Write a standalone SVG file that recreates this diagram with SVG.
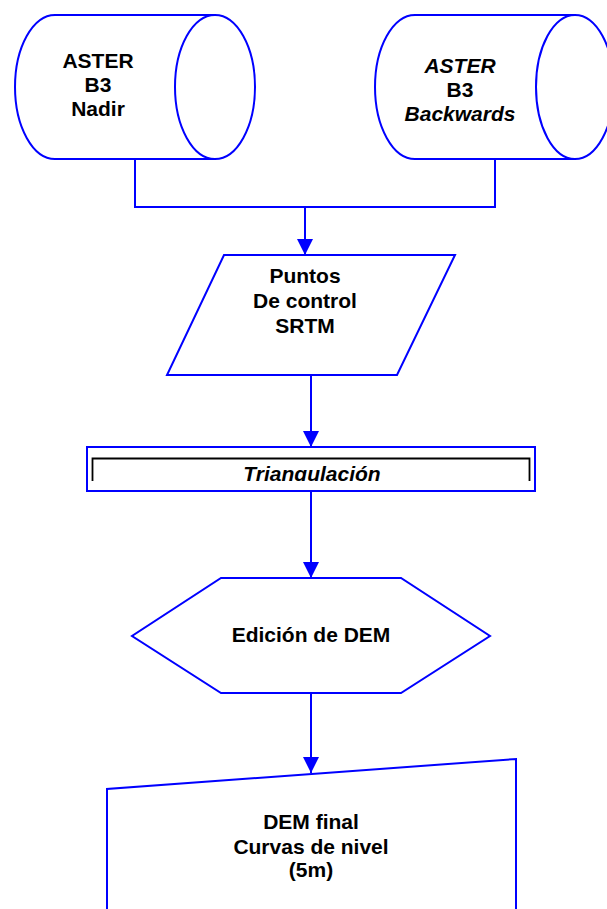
<svg xmlns="http://www.w3.org/2000/svg" width="607" height="909" viewBox="0 0 607 909">
<style>
.s{fill:#fff;stroke:#0000ff;stroke-width:2}
.c{fill:none;stroke:#0000ff;stroke-width:2}
.t{font-family:"Liberation Sans",Arial,sans-serif;font-weight:bold;font-size:21px;fill:#000;text-anchor:middle}
.i{font-style:italic}
</style>
<defs>
<marker id="ah" markerUnits="userSpaceOnUse" markerWidth="16" markerHeight="16" viewBox="0 0 16 16" refX="16" refY="8" orient="auto">
<path d="M0,0 L16,8 L0,16 Z" fill="#0000ff"/>
</marker>
<clipPath id="clipTri"><rect x="88" y="448" width="446" height="33"/></clipPath>
</defs>
<rect width="607" height="909" fill="#fff"/>
<g id="connectors">
<path class="c" d="M135,159 V207 H495 V159"/>
<path class="c" d="M305,207 V255" marker-end="url(#ah)"/>
<path class="c" d="M311,375 V447" marker-end="url(#ah)"/>
<path class="c" d="M311,491 V578" marker-end="url(#ah)"/>
<path class="c" d="M311,693 V773" marker-end="url(#ah)"/>
</g>
<g id="aster-nadir">
<path class="s" d="M55,15 H215 V159 H55 A40,72 0 0 1 55,15 Z"/>
<ellipse class="s" cx="215" cy="87" rx="40" ry="72"/>
<text class="t" x="98" y="68">ASTER</text>
<text class="t" x="98" y="92">B3</text>
<text class="t" x="98" y="116">Nadir</text>
</g>
<g id="aster-backwards">
<path class="s" d="M415,15 H575 V159 H415 A40,72 0 0 1 415,15 Z"/>
<ellipse class="s" cx="575" cy="87" rx="39" ry="72"/>
<text class="t i" x="460" y="73">ASTER</text>
<text class="t" x="460" y="97">B3</text>
<text class="t i" x="460" y="121">Backwards</text>
</g>
<g id="puntos-control">
<polygon class="s" points="224,255 455,255 397,375 167,375"/>
<text class="t" x="305" y="283">Puntos</text>
<text class="t" x="305" y="308">De control</text>
<text class="t" x="305" y="333">SRTM</text>
</g>
<g id="triangulacion">
<rect class="s" x="87" y="447" width="448" height="44"/>
<path d="M92.5,481 V458.5 H529.5 V481" fill="none" stroke="#000" stroke-width="1.8"/>
<text class="t i" x="312" y="481" clip-path="url(#clipTri)">Triangulación</text>
</g>
<g id="edicion-dem">
<polygon class="s" points="221,578 401,578 490,636 401,693 221,693 132,636"/>
<text class="t" x="311" y="642">Edición de DEM</text>
</g>
<g id="dem-final">
<path class="s" d="M107,920 V789 L516,759 V920"/>
<text class="t" x="311" y="829">DEM final</text>
<text class="t" x="311" y="854">Curvas de nivel</text>
<text class="t" x="311" y="877">(5m)</text>
</g>
</svg>
